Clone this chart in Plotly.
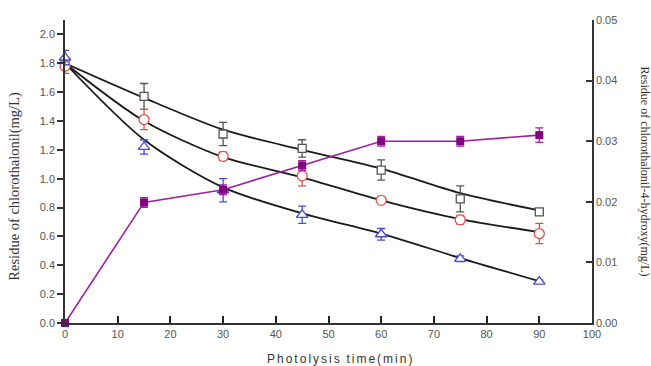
import plotly.graph_objects as go

time = [0, 15, 30, 45, 60, 75, 90]

sq_y = [1.80, 1.57, 1.31, 1.21, 1.06, 0.86, 0.77]
sq_err = [0.03, 0.09, 0.08, 0.06, 0.07, 0.09, 0.02]
sq_fit = [1.80, 1.56, 1.34, 1.20, 1.07, 0.90, 0.78]

ci_y = [1.78, 1.41, 1.155, 1.02, 0.85, 0.715, 0.62]
ci_err = [0.05, 0.07, 0.03, 0.07, 0.01, 0.03, 0.07]
ci_fit = [1.80, 1.40, 1.15, 1.01, 0.85, 0.72, 0.63]

tr_y = [1.84, 1.22, 0.92, 0.75, 0.615, 0.445, 0.287]
tr_err = [0.05, 0.05, 0.08, 0.06, 0.04, 0.02, 0.01]
tr_fit = [1.80, 1.27, 0.94, 0.76, 0.62, 0.45, 0.29]

hy_y = [0.0, 0.0199, 0.0220, 0.0260, 0.0300, 0.0300, 0.0310]
hy_err = [0.0, 0.0008, 0.0008, 0.0008, 0.0008, 0.0008, 0.0012]

x_ticks = [0, 10, 20, 30, 40, 50, 60, 70, 80, 90, 100]
y_ticks = [0, 0.2, 0.4, 0.6, 0.8, 1.0, 1.2, 1.4, 1.6, 1.8, 2.0]
y2_ticks = [0, 0.01, 0.02, 0.03, 0.04, 0.05]

fig = go.Figure()

for fit in [sq_fit, ci_fit, tr_fit]:
    fig.add_trace(go.Scatter(x=time, y=fit, mode="lines",
                             line=dict(color="#1a1a1a", width=1.8, shape="spline", smoothing=0.8),
                             showlegend=False, hoverinfo="skip"))

def pts(y, err, sym, col, size):
    return go.Scatter(x=time, y=y, mode="markers",
                      marker=dict(symbol=sym, size=size, color="white",
                                  line=dict(color=col, width=1.3)),
                      error_y=dict(type="data", array=err, color=col, thickness=1.3, width=4),
                      showlegend=False, cliponaxis=False)

fig.add_trace(pts(sq_y, sq_err, "square", "#555555", 8))
fig.add_trace(pts(ci_y, ci_err, "circle", "#e0504a", 10))
fig.add_trace(pts(tr_y, tr_err, "triangle-up", "#4a4ad8", 10))

fig.add_trace(go.Scatter(x=time, y=hy_y, mode="lines+markers", yaxis="y2",
                         line=dict(color="#a020a0", width=1.6),
                         marker=dict(symbol="square", size=8, color="#800080"),
                         error_y=dict(type="data", array=hy_err, color="#a020a0", thickness=1.3, width=4),
                         showlegend=False, cliponaxis=False))

tickfont = dict(family="Liberation Sans, Arial, sans-serif", size=11, color="#555555")

hs = "\u200a"
xtitle = (hs + hs).join("Photolysis") + "  " + (hs + hs).join("time(min)")

fig.update_layout(
    width=651, height=366,
    margin=dict(l=65, r=59, t=20, b=43),
    plot_bgcolor="white", paper_bgcolor="white",
    xaxis=dict(range=[0, 100], tickvals=x_ticks, ticks="inside", ticklen=7, tickwidth=2,
               tickcolor="#222", showline=True, linecolor="#333", mirror=False,
               linewidth=1.5, showgrid=False, zeroline=False, tickfont=tickfont),
    yaxis=dict(range=[0, 2.1], tickvals=y_ticks, ticktext=[f"{v:.1f}" for v in y_ticks],
               ticks="outside", ticklen=6, tickcolor="#333", tickwidth=1.5, showline=True,
               linecolor="#333", linewidth=1.5, showgrid=False, zeroline=False, tickfont=tickfont),
    yaxis2=dict(range=[0, 0.05], overlaying="y", side="right", anchor="x",
                tickvals=y2_ticks, ticktext=[f"{v:.2f}" for v in y2_ticks],
                ticks="inside", ticklen=6, tickcolor="#333", tickwidth=1.5, showline=True,
                linecolor="#333", linewidth=1.5, showgrid=False, zeroline=False, tickfont=tickfont),
)
fig.add_annotation(text=xtitle, xref="paper", yref="paper", x=0.52, y=0, yshift=-36,
                   xanchor="center", yanchor="middle", showarrow=False,
                   font=dict(family="Liberation Sans, Arial, sans-serif", size=12, color="#333"))
fig.add_annotation(text="Residue of chlorothalonil(mg/L)", xref="paper", yref="paper",
                   x=0, xshift=-50, y=0.45, xanchor="center", yanchor="middle", textangle=-90,
                   showarrow=False,
                   font=dict(family="Liberation Serif, Times New Roman, serif", size=14.5, color="#333"))
fig.add_annotation(text="Residue of chlorothalonil-4-hydroxy(mg/L)", xref="paper", yref="paper",
                   x=1.0, xshift=53, y=0.5, xanchor="center", yanchor="middle", textangle=90,
                   showarrow=False,
                   font=dict(family="Liberation Serif, Times New Roman, serif", size=12, color="#333"))

fig.write_html("out.html")
